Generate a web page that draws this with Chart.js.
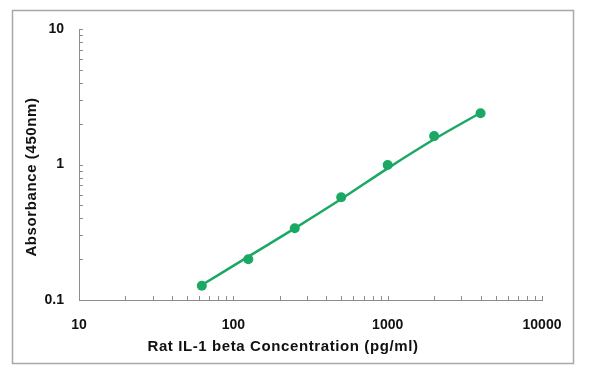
<!DOCTYPE html>
<html>
<head>
<meta charset="utf-8">
<script src="https://cdn.jsdelivr.net/npm/chart.js@4/dist/chart.umd.min.js"></script>
<style>
  html, body { margin: 0; padding: 0; background: #fff; }
  #wrap { width: 600px; height: 377px; position: relative; }
</style>
</head>
<body>
<div id="wrap"><canvas id="chart"></canvas></div>
<script>
// standard points
const concentrations = [62.5, 125, 250, 500, 1000, 2000, 4000];
const absorbances = [0.1275, 0.200, 0.338, 0.573, 0.992, 1.62, 2.39];
// fitted curve
const fitAbsorbances = [0.129, 0.209, 0.338, 0.556, 0.937, 1.535, 2.41];

const xTickLabels = [10, 100, 1000, 10000];
const yTickLabels = [0.1, 1, 10];

const green = '#1aa864';
const fontFamily = '"Liberation Sans", Arial, sans-serif';

// log ticks 1..9 per decade between min and max
function logTicks(min, max) {
    const out = [];
    for (let d = min; d < max; d *= 10) {
        for (let k = 1; k < 10; k++) out.push(d * k);
    }
    out.push(max);
    return out;
}

// draws the small inward tick marks, the frame and the axis titles
const decorations = {
    id: 'decorations',
    afterDraw(chart) {
        const ctx = chart.ctx;
        const xs = chart.scales.x;
        const ys = chart.scales.y;
        const area = chart.chartArea;
        ctx.save();
        ctx.strokeStyle = '#8c8c8c';
        ctx.lineWidth = 1;
        ctx.beginPath();
        xs.ticks.forEach(t => {
            const px = Math.round(xs.getPixelForValue(t.value)) + 0.5;
            ctx.moveTo(px, area.bottom);
            ctx.lineTo(px, area.bottom - 4);
        });
        ys.ticks.forEach(t => {
            const py = Math.round(ys.getPixelForValue(t.value)) + 0.5;
            ctx.moveTo(area.left, py);
            ctx.lineTo(area.left + 4, py);
        });
        ctx.stroke();

        // outer frame
        ctx.strokeStyle = '#a8a8a8';
        ctx.lineWidth = 1.5;
        ctx.strokeRect(12.5, 10.5, 561, 353);

        // axis titles
        ctx.fillStyle = '#111';
        ctx.font = 'bold 15px ' + fontFamily;
        ctx.letterSpacing = '0.6px';
        ctx.textAlign = 'center';
        ctx.textBaseline = 'middle';
        ctx.fillText('Rat IL-1 beta Concentration (pg/ml)', 283, 347);
        ctx.translate(32, 177);
        ctx.rotate(-Math.PI / 2);
        ctx.fillText('Absorbance (450nm)', 0, 0);
        ctx.restore();
    }
};

new Chart(document.getElementById('chart'), {
    type: 'line',
    data: {
        datasets: [
            {
                label: 'Fit',
                data: concentrations.map((c, i) => ({ x: c, y: fitAbsorbances[i] })),
                borderColor: green,
                borderWidth: 2.5,
                pointRadius: 0,
                cubicInterpolationMode: 'monotone',
                fill: false
            },
            {
                label: 'Standards',
                data: concentrations.map((c, i) => ({ x: c, y: absorbances[i] })),
                showLine: false,
                pointRadius: 5,
                pointBackgroundColor: green,
                pointBorderColor: green,
                pointBorderWidth: 0
            }
        ]
    },
    options: {
        responsive: true,
        maintainAspectRatio: false,
        animation: false,
        layout: { padding: { left: 0, right: 58, top: 29, bottom: 0 } },
        plugins: {
            legend: { display: false },
            tooltip: { enabled: false }
        },
        scales: {
            x: {
                type: 'logarithmic',
                min: xTickLabels[0],
                max: xTickLabels[xTickLabels.length - 1],
                afterBuildTicks: s => { s.ticks = logTicks(s.min, s.max).map(v => ({ value: v })); },
                afterFit: s => { s.height = 77; },
                border: { display: true, color: '#8c8c8c', width: 1 },
                grid: { display: false, drawTicks: false },
                ticks: {
                    autoSkip: false,
                    maxRotation: 0,
                    padding: 17,
                    color: '#111',
                    font: { family: fontFamily, size: 14, weight: 'bold' },
                    callback: v => xTickLabels.includes(v) ? String(v) : ''
                }
            },
            y: {
                type: 'logarithmic',
                min: yTickLabels[0],
                max: yTickLabels[yTickLabels.length - 1],
                afterBuildTicks: s => { s.ticks = logTicks(s.min, s.max).map(v => ({ value: v })); },
                afterFit: s => { s.width = 79; },
                border: { display: true, color: '#8c8c8c', width: 1 },
                grid: { display: false, drawTicks: false },
                ticks: {
                    autoSkip: false,
                    padding: 15,
                    color: '#111',
                    font: { family: fontFamily, size: 14, weight: 'bold' },
                    callback: v => yTickLabels.includes(v) ? String(v) : ''
                }
            }
        }
    },
    plugins: [decorations]
});
</script>
</body>
</html>
